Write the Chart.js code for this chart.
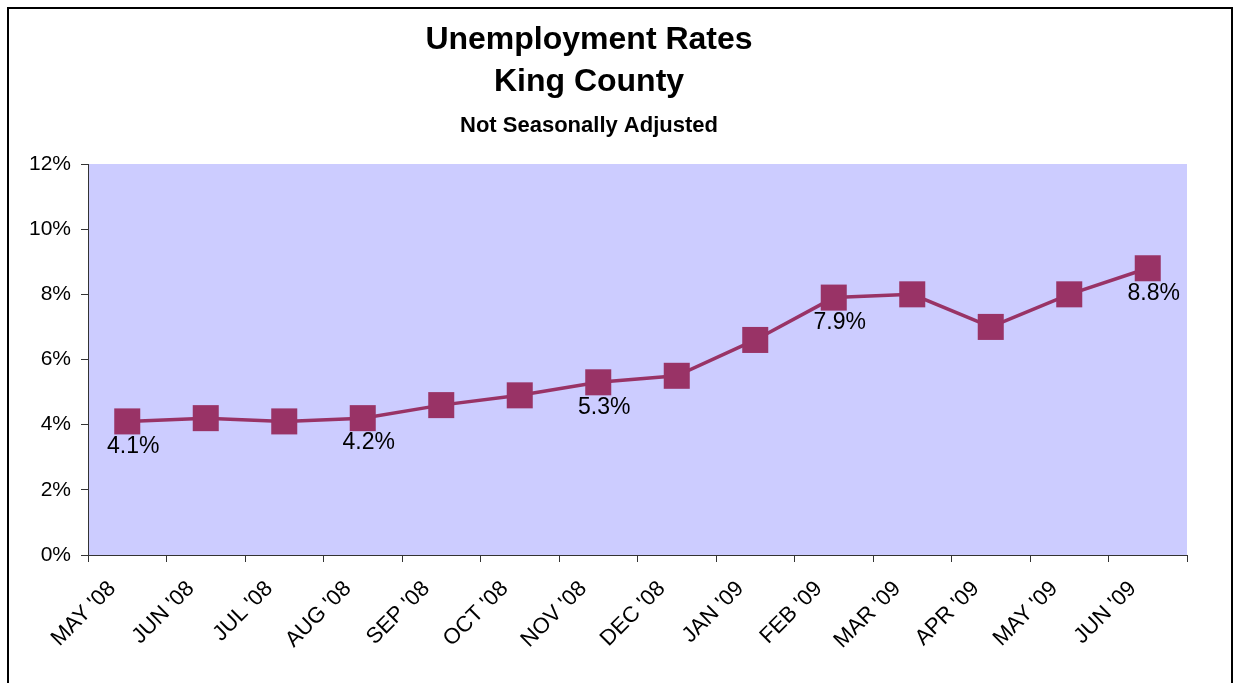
<!DOCTYPE html>
<html>
<head>
<meta charset="utf-8">
<script src="https://cdn.jsdelivr.net/npm/chart.js@4.4.0/dist/chart.umd.min.js"></script>
<style>
  body { margin: 0; background: #fff; }
  #frame { position: absolute; left: 7px; top: 7px; width: 1222px; height: 720px; border: 2px solid #000; border-bottom: none; }
  #wrap { position: absolute; left: 0; top: 0; width: 1235px; height: 683px; }
</style>
</head>
<body>
<div id="frame"></div>
<div id="wrap"><canvas id="myChart"></canvas></div>
<script>
const months = ["MAY '08","JUN '08","JUL '08","AUG '08","SEP '08","OCT '08","NOV '08","DEC '08","JAN '09","FEB '09","MAR '09","APR '09","MAY '09","JUN '09"]
const rates = [4.1, 4.2, 4.1, 4.2, 4.6, 4.9, 5.3, 5.5, 6.6, 7.9, 8.0, 7.0, 8.0, 8.8]
const labeledPoints = [0, 3, 6, 9, 13]
const titleLines = ["Unemployment Rates", "King County"]
const subTitle = "Not Seasonally Adjusted"
const yTicks = [0, 2, 4, 6, 8, 10, 12]

const FONT = "'Liberation Sans', Arial, sans-serif"

// plot area fill
const plotBg = {
  id: 'plotBg',
  beforeDraw(chart) {
    const {ctx, chartArea} = chart
    ctx.save()
    ctx.fillStyle = '#CCCCFF'
    ctx.fillRect(chartArea.left, chartArea.top, chartArea.right - chartArea.left, chartArea.bottom - chartArea.top)
    ctx.restore()
  }
}

// titles, Excel style
const titles = {
  id: 'titles',
  afterDraw(chart) {
    const ctx = chart.ctx
    ctx.save()
    ctx.fillStyle = '#000'
    ctx.textAlign = 'center'
    ctx.textBaseline = 'alphabetic'
    ctx.font = "bold 32px " + FONT
    ctx.fillText(titleLines[0], 589, 49)
    ctx.fillText(titleLines[1], 589, 91)
    ctx.font = "bold 22px " + FONT
    ctx.fillText(subTitle, 589, 132)
    ctx.restore()
  }
}

// value labels under some points
const pointLabels = {
  id: 'pointLabels',
  afterDatasetsDraw(chart) {
    const ctx = chart.ctx
    const meta = chart.getDatasetMeta(0)
    ctx.save()
    ctx.fillStyle = '#000'
    ctx.font = "23px " + FONT
    ctx.textAlign = 'center'
    ctx.textBaseline = 'middle'
    labeledPoints.forEach(i => {
      const pt = meta.data[i]
      ctx.fillText(rates[i].toFixed(1) + '%', pt.x + 6, pt.y + 25)
    })
    ctx.restore()
  }
}

const ctx = document.getElementById('myChart').getContext('2d')
const chart = new Chart(ctx, {
  type: 'line',
  data: {
    labels: months,
    datasets: [{
      data: rates,
      borderColor: '#993366',
      backgroundColor: '#993366',
      borderWidth: 3.5,
      pointStyle: 'rect',
      pointRadius: 18.4,
      pointHoverRadius: 18.4,
      pointBorderWidth: 0,
      tension: 0,
      clip: false
    }]
  },
  options: {
    responsive: true,
    maintainAspectRatio: false,
    animation: false,
    devicePixelRatio: 1,
    layout: { padding: { top: 164, right: 48, left: 0, bottom: 0 } },
    plugins: {
      legend: { display: false },
      tooltip: { enabled: false },
      title: { display: false }
    },
    scales: {
      x: {
        offset: true,
        grid: { offset: true, drawOnChartArea: false, tickLength: 7, color: '#333' },
        border: { display: true, color: '#333', width: 1 },
        ticks: {
          color: '#000',
          font: { family: FONT, size: 22 },
          maxRotation: 45,
          minRotation: 45,
          autoSkip: false,
          padding: 14,
          labelOffset: -15
        },
        afterFit(scale) { scale.height = 128 }
      },
      y: {
        min: 0,
        max: 12,
        afterBuildTicks(scale) { scale.ticks = yTicks.map(v => ({ value: v })) },
        grid: { drawOnChartArea: false, tickLength: 7, color: '#333' },
        border: { display: true, color: '#333', width: 1 },
        ticks: {
          color: '#000',
          font: { family: FONT, size: 21 },
          padding: 10,
          callback: v => v + '%'
        },
        afterFit(scale) { scale.width = 88 }
      }
    }
  },
  plugins: [plotBg, titles, pointLabels]
})
</script>
</body>
</html>
